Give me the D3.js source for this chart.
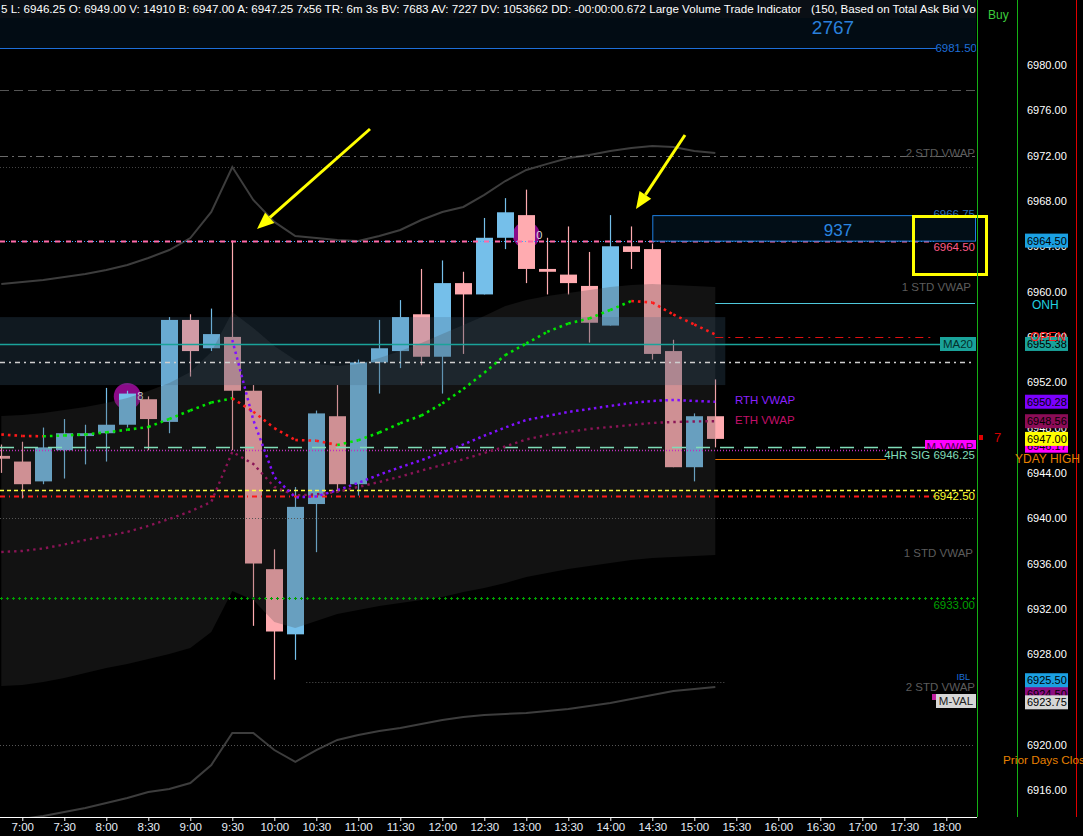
<!DOCTYPE html>
<html><head><meta charset="utf-8">
<script src="https://cdn.jsdelivr.net/npm/d3@7"></script>
<style>
body{margin:0;background:#000;overflow:hidden}
svg{display:block}
text{font-family:"Liberation Sans","DejaVu Sans",sans-serif}
</style></head><body>
<svg id="c" width="1083" height="836"></svg>
<script>
// ---------------- DATA ----------------
const barTimes = ["6:45","7:00","7:15","7:30","7:45","8:00","8:15","8:30","8:45","9:00","9:15","9:30","9:45","10:00","10:15","10:30","10:45","11:00","11:15","11:30","11:45","12:00","12:15","12:30","12:45","13:00","13:15","13:30","13:45","14:00","14:15","14:30","14:45","15:00","15:15"];
const opens  = [6945.5,6945.0,6943.25,6946.0,6947.25,6947.5,6948.25,6950.5,6948.5,6957.5,6955.0,6956.0,6951.25,6935.5,6929.75,6941.25,6949.0,6943.0,6953.75,6954.75,6958.0,6954.25,6960.75,6959.75,6964.75,6966.75,6962.0,6961.5,6960.5,6957.0,6964.0,6963.75,6954.75,6944.5,6949.0];
const highs  = [6946.5,6946.75,6948.0,6948.75,6948.25,6951.5,6951.25,6950.75,6957.75,6958.0,6958.5,6964.5,6951.75,6937.25,6942.75,6949.5,6951.75,6954.0,6957.5,6959.25,6962.0,6962.75,6961.75,6966.5,6968.25,6969.0,6964.75,6965.75,6963.5,6966.75,6965.75,6964.25,6955.75,6949.25,6952.25];
const lows   = [6944.0,6941.75,6943.0,6943.5,6944.75,6945.0,6948.0,6946.0,6947.5,6952.5,6954.75,6946.0,6930.5,6925.75,6927.5,6937.0,6942.5,6942.0,6951.0,6953.25,6953.5,6951.0,6954.5,6959.75,6963.75,6960.75,6959.75,6959.75,6955.5,6957.0,6962.0,6954.0,6944.5,6943.25,6946.25];
const closes = [6945.25,6943.0,6946.25,6947.5,6947.5,6948.25,6951.0,6948.75,6957.5,6954.75,6956.25,6951.25,6936.0,6930.0,6941.0,6949.25,6943.0,6953.75,6955.0,6957.75,6954.25,6960.75,6959.75,6964.75,6967.0,6962.0,6961.75,6960.75,6957.25,6964.0,6963.5,6954.5,6944.5,6949.0,6947.0];

const std2Upper = [6960.67,6960.85,6961.03,6961.29,6961.56,6961.91,6962.35,6962.97,6963.67,6964.73,6967.03,6971.00,6968.09,6966.15,6964.91,6964.73,6964.56,6964.47,6964.91,6965.44,6966.32,6967.03,6967.47,6968.53,6969.76,6970.74,6971.27,6971.79,6972.06,6972.41,6972.68,6972.85,6972.77,6972.41,6972.24];
const std2Lower = [6913.37,6913.46,6913.72,6914.07,6914.43,6914.87,6915.31,6915.84,6916.10,6916.63,6918.22,6921.05,6921.05,6919.54,6918.49,6919.54,6920.43,6920.87,6921.22,6921.49,6921.84,6922.19,6922.46,6922.63,6922.72,6922.81,6922.99,6923.16,6923.43,6923.69,6924.05,6924.40,6924.75,6924.93,6925.11];
const std1Upper = [6949.02,6949.11,6949.29,6949.55,6949.82,6950.17,6950.61,6951.23,6951.94,6952.91,6954.67,6958.20,6956.79,6955.20,6953.97,6953.61,6953.44,6953.61,6954.14,6954.76,6955.47,6956.26,6957.06,6957.85,6958.73,6959.26,6959.62,6959.88,6960.14,6960.41,6960.59,6960.67,6960.59,6960.50,6960.41];
const std1Lower = [6925.19,6925.28,6925.55,6925.90,6926.34,6926.78,6927.14,6927.58,6928.02,6928.55,6929.96,6933.58,6932.78,6930.84,6930.31,6930.93,6931.55,6931.90,6932.25,6932.52,6932.78,6933.05,6933.49,6933.84,6934.28,6934.81,6935.17,6935.52,6935.78,6936.05,6936.31,6936.49,6936.58,6936.67,6936.76];
const trendMA  = [6947.39,6947.26,6947.23,6947.30,6947.39,6947.58,6947.81,6948.05,6948.76,6949.51,6950.21,6950.58,6949.40,6947.96,6946.90,6946.84,6946.46,6946.88,6947.56,6948.38,6949.06,6950.12,6951.40,6952.84,6954.40,6955.42,6956.45,6957.18,6957.63,6958.38,6959.17,6959.04,6957.98,6957.10,6956.21];
const ethVwap  = [6937.02,6937.11,6937.33,6937.68,6938.08,6938.43,6938.79,6939.32,6939.93,6940.60,6941.43,6945.85,6944.79,6942.76,6942.01,6942.10,6942.32,6942.76,6943.20,6943.67,6944.20,6944.70,6945.20,6945.76,6946.33,6946.95,6947.35,6947.61,6947.88,6948.05,6948.23,6948.41,6948.49,6948.54,6948.56];
const rthStart = "9:30";
const rthVwap  = [6955.73,6948.67,6943.64,6941.83,6941.92,6942.47,6943.12,6943.84,6944.50,6945.12,6945.80,6946.51,6947.28,6948.01,6948.67,6949.02,6949.38,6949.64,6949.91,6950.17,6950.35,6950.44,6950.35,6950.28];

const levelNames  = ["LVT High","Prior A","Prior B","Prior C","RTH High","ONH","OPEN","MA20","Mid","4HR SIG","M-VWAP","YDAY HIGH","Yellow","Red","Grid40","Plus","IBL","Grid20"];
const levelPrices = [6981.5,6977.75,6972.0,6971.0,6964.5,6959.0,6956.0,6955.38,6953.75,6946.25,6946.0,6945.25,6942.5,6942.0,6940.0,6933.0,6925.5,6920.0];

const valueAreaTop = 6957.75, valueAreaBottom = 6951.75;
const lvtBoxTop = 6966.75, lvtBoxBottom = 6964.5, lvtBoxStart = "14:30", lvtBoxVolume = "937";
const lvtTopVolume = "2767";
const bigTrades = [{time:"8:15", price:6950.75, label:"8"},{time:"13:00", price:6965.0, label:"0"}];

const timeTicks = ["7:00","7:30","8:00","8:30","9:00","9:30","10:00","10:30","11:00","11:30","12:00","12:30","13:00","13:30","14:00","14:30","15:00","15:30","16:00","16:30","17:00","17:30","18:00"];
const priceTicks = [6916,6920,6924,6928,6932,6936,6940,6944,6948,6952,6956,6960,6964,6968,6972,6976,6980];

const axisBoxes = [
  {v:"6964.50", p:6964.5, bg:"#1ba0e2", fg:"#000"},
  {v:"6955.38", p:6955.38, bg:"#1aa39a", fg:"#000"},
  {v:"6950.28", p:6950.28, bg:"#7b00ff", fg:"#000"},
  {v:"6948.56", p:6948.56, bg:"#8c0c57", fg:"#000"},
  {v:"6946.17", p:6946.4, bg:"#ff00ff", fg:"#000"},
  {v:"6947.00", p:6947.0, bg:"#ffff00", fg:"#000"},
  {v:"6924.50", p:6924.5, bg:"#8c0c80", fg:"#000"},
  {v:"6925.50", p:6925.7, bg:"#1ba0e2", fg:"#000"},
  {v:"6923.75", p:6923.75, bg:"#d6d6d6", fg:"#000"}
];
const header = "5 L: 6946.25 O: 6949.00 V: 14910 B: 6947.00 A: 6947.25 7x56 TR: 6m 3s BV: 7683 AV: 7227 DV: 1053662 DD: -00:00:00.672 Large Volume Trade Indicator   (150, Based on Total Ask Bid Volume At Price)";

// ---------------- CHART ----------------
const toMin = s => { const [h,m] = s.split(":").map(Number); return h*60+m; };
const svg = d3.select("#c");
const plotR = 977, axisY = 817;
const x = d3.scaleLinear().domain([toMin("7:00"), toMin("18:00")]).range([22.3, 946.3]);
const y = d3.scaleLinear().domain([6920, 6980]).range([744.8, 65]);
const bx = i => x(toMin(barTimes[i]));

svg.append("rect").attr("width",1083).attr("height",836).attr("fill","#000");
const defs = svg.append("defs");
defs.append("clipPath").attr("id","clip").append("rect").attr("x",0).attr("y",0).attr("width",plotR-1).attr("height",axisY);
defs.append("clipPath").attr("id","clipR").append("rect").attr("x",977).attr("y",0).attr("width",106).attr("height",836);
const g = svg.append("g").attr("clip-path","url(#clip)");

// top zone
g.append("rect").attr("x",0).attr("y",0).attr("width",plotR).attr("height",y(6981.5)).attr("fill","#020c14");
g.append("rect").attr("x",0).attr("y",0).attr("width",plotR).attr("height",18).attr("fill","#0a0f15");
g.append("text").attr("x",1).attr("y",13).attr("fill","#fff").style("font-size","11.6px").attr("xml:space","preserve").text(header);
g.append("text").attr("x",833).attr("y",34).attr("text-anchor","middle").attr("fill","#2a80dc").style("font-size","19px").text(lvtTopVolume);

// big trade circles
bigTrades.forEach(b=>{
  g.append("circle").attr("cx",x(toMin(b.time))).attr("cy",y(b.price)).attr("r",13.5).attr("fill","#8b0a88");
});

// candles
const idx = d3.range(barTimes.length);
const cg = g.append("g");
idx.forEach(i=>{
  const up = closes[i] >= opens[i];
  const col = up ? "#75bfea" : "#ffabb0";
  const cx = Math.round(bx(i)) + 0.5;
  cg.append("line").attr("x1",cx).attr("x2",cx).attr("y1",y(highs[i])).attr("y2",y(lows[i])).attr("stroke",col).attr("stroke-width",1.2);
  const top = y(Math.max(opens[i],closes[i])), bot = y(Math.min(opens[i],closes[i]));
  cg.append("rect").attr("x",cx-8.5).attr("y",top).attr("width",17).attr("height",Math.max(bot-top,2)).attr("fill",col);
});
bigTrades.forEach(b=>{
  g.append("text").attr("x",x(toMin(b.time))+10).attr("y",y(b.price)+4).attr("fill","#ddd").style("font-size","11px").text(b.label);
});

// 1 STD band overlay
const lastX = bx(barTimes.length-1);
const band = d3.area().x((d,i)=>bx(i)).y0((d,i)=>y(std1Lower[i])).y1((d,i)=>y(std1Upper[i]));
g.append("path").datum(std1Upper).attr("d",band).attr("fill","rgba(68,68,68,0.26)");
// value area overlay
g.append("rect").attr("x",0).attr("y",y(valueAreaTop)).attr("width",lastX+10).attr("height",y(valueAreaBottom)-y(valueAreaTop)).attr("fill","rgba(66,104,134,0.24)");

// 2 STD lines
const ln = arr => d3.line().x((d,i)=>bx(i)).y(d=>y(d))(arr);
g.append("path").attr("d",ln(std2Upper)).attr("fill","none").attr("stroke","#3d3d3d").attr("stroke-width",2);
g.append("path").attr("d",ln(std2Lower)).attr("fill","none").attr("stroke","#3d3d3d").attr("stroke-width",2);

// horizontal levels
const lv = {};
levelNames.forEach((n,i)=>lv[n]=levelPrices[i]);
function hline(name, x0, x1, stroke, width, dash){
  const yy = Math.round(y(lv[name]))+0.5;
  const l = g.append("line").attr("x1",x0).attr("x2",x1).attr("y1",yy).attr("y2",yy).attr("stroke",stroke).attr("stroke-width",width);
  if(dash) l.attr("stroke-dasharray",dash);
  return l;
}
hline("LVT High",0,936,"#1e6fd8",1.2);
hline("Prior A",0,975,"#555",1,"9,5");
hline("Prior B",0,975,"#6a6a6a",1.2,"8,4,2,4");
hline("Prior C",0,975,"#444",1,"1,2");
hline("Grid40",0,975,"#555",1,"1,2");
hline("Grid20",0,975,"#555",1,"1,2");
hline("IBL",x(toMin("10:30"))-10,lastX+10,"#555",1,"1,2");
hline("MA20",0,940,"#1aa39a",1.3);
hline("Mid",0,975,"#cfcfcf",1.5,"5,4,2,4");
hline("4HR SIG",0,975,"#80dcb8",1.5,"14,10");
hline("M-VWAP",0,925,"#c030c0",1.5,"1,2");
hline("YDAY HIGH",lastX,890,"#e07000",1);
hline("Yellow",0,975,"#ffff40",1.6,"4,3");
hline("Red",0,935,"#ff1a1a",2.2,"5,4,1,4");
hline("ONH",lastX,975,"#4fc8dc",1);
hline("OPEN",lastX,935,"#e01010",1.2,"8,5,2,5");
hline("RTH High",0,935,"#3fb0ff",1,"1,2");
hline("RTH High",0,935,"#ff6aa8",2,"5,6");
// green plus line
{
  const yy = Math.round(y(lv["Plus"]))+0.5;
  g.append("line").attr("x1",0).attr("x2",975).attr("y1",yy).attr("y2",yy).attr("stroke","#00a000").attr("stroke-width",1).attr("stroke-dasharray","3,3");
  g.append("line").attr("x1",1).attr("x2",975).attr("y1",yy).attr("y2",yy).attr("stroke","#00a000").attr("stroke-width",3).attr("stroke-dasharray","1,5");
}

// LVT box
{
  const x0 = x(toMin(lvtBoxStart));
  g.append("rect").attr("x",x0+0.5).attr("y",y(lvtBoxTop)+0.5).attr("width",975-x0).attr("height",y(lvtBoxBottom)-y(lvtBoxTop)).attr("fill","rgba(2,16,26,0.9)").attr("stroke","#1e7fe0").attr("stroke-width",1);
  g.append("text").attr("x",838).attr("y",236).attr("text-anchor","middle").attr("fill","#2a86e0").style("font-size","17px").text(lvtBoxVolume);
}

// indicator curves
for(let i=0;i<trendMA.length-1;i++){
  const upSeg = trendMA[i+1] >= trendMA[i];
  g.append("line").attr("x1",bx(i)).attr("y1",y(trendMA[i])).attr("x2",bx(i+1)).attr("y2",y(trendMA[i+1]))
   .attr("stroke", upSeg ? "#00e600" : "#ff1a1a").attr("stroke-width",2.6).attr("stroke-dasharray","2.6,4");
}
g.append("path").attr("d",ln(ethVwap)).attr("fill","none").attr("stroke","#8a1456").attr("stroke-width",2.4).attr("stroke-dasharray","2.4,4");
{
  const s = barTimes.indexOf(rthStart);
  const p = d3.line().x((d,i)=>bx(s+i)).y(d=>y(d))(rthVwap);
  g.append("path").attr("d",p).attr("fill","none").attr("stroke","#7f10ff").attr("stroke-width",2.5).attr("stroke-dasharray","2.5,3.5");
}

// plot labels
function lab(t, xx, yy, col, size, anchor){
  return g.append("text").attr("x",xx).attr("y",yy).attr("fill",col).attr("text-anchor",anchor||"end").style("font-size",(size||11.5)+"px").text(t);
}
lab("6981.50",977,52,"#1e6fd8");
lab("2 STD VWAP",975,157,"#5c5c5c");
lab("6966.75",975,218,"#2a6fb8");
lab("6964.50",975,251,"#ff5a88");
lab("1 STD VWAP",971,291,"#5c5c5c");
g.append("rect").attr("x",940).attr("y",337).attr("width",36).attr("height",14).attr("fill","#1aa39a");
lab("MA20",958,348,"#04302c",11.5,"middle");
lab("RTH VWAP",735,404,"#8a20ff",11.5,"start");
lab("ETH VWAP",735,424,"#c4106a",11.5,"start");
g.append("rect").attr("x",925).attr("y",440).attr("width",51).attr("height",14).attr("fill","#ff00ff");
lab("M-VWAP",950,451,"#400040",11.5,"middle");
g.append("rect").attr("x",886).attr("y",449).attr("width",90).attr("height",12).attr("fill","#000");
lab("4HR SIG  6946.25",975,459,"#80dcb8");
lab("6942.50",975,500,"#ffff30");
lab("1 STD VWAP",973,557,"#5c5c5c");
lab("6933.00",975,609,"#00a000");
lab("IBL",970,680,"#1e6fd8",9);
lab("2 STD VWAP",975,691,"#5c5c5c");
g.append("rect").attr("x",932).attr("y",694).attr("width",5).attr("height",6).attr("fill","#c020a0");
g.append("rect").attr("x",936).attr("y",694).attr("width",40).attr("height",14).attr("fill","#d6d6d6");
lab("M-VAL",956,705,"#202020",11.5,"middle");

// annotations (arrows and box)
function arrow(x1,y1,x2,y2){
  const a = Math.atan2(y2-y1,x2-x1), L=17, Wd=7;
  const bxp = x2 - L*Math.cos(a), byp = y2 - L*Math.sin(a);
  g.append("line").attr("x1",x1).attr("y1",y1).attr("x2",bxp).attr("y2",byp).attr("stroke","#ffff00").attr("stroke-width",3);
  const p1 = [bxp + Wd*Math.sin(a), byp - Wd*Math.cos(a)], p2 = [bxp - Wd*Math.sin(a), byp + Wd*Math.cos(a)];
  g.append("path").attr("d",`M${x2},${y2}L${p1}L${p2}Z`).attr("fill","#ffff00");
}
arrow(370,129,257,229);
arrow(685,135,636,209);
svg.append("rect").attr("x",913.5).attr("y",216.5).attr("width",73).attr("height",58).attr("fill","none").attr("stroke","#ffff00").attr("stroke-width",3);

// bottom axis
const xAxis = d3.axisBottom(x).tickValues(timeTicks.map(toMin)).tickFormat((d,i)=>timeTicks[i]).tickSize(4).tickSizeOuter(0).tickPadding(2);
const xa = svg.append("g").attr("transform",`translate(0,${axisY})`).call(xAxis);
xa.select(".domain").remove();
xa.selectAll("line").attr("stroke","#fff");
xa.selectAll("text").attr("fill","#e6eef6").style("font-size","11.5px").style("font-family","Liberation Sans, sans-serif");
svg.append("line").attr("x1",0).attr("x2",plotR).attr("y1",axisY+0.5).attr("y2",axisY+0.5).attr("stroke","#fff").attr("stroke-width",1.2);

// separators
svg.append("line").attr("x1",plotR+0.5).attr("x2",plotR+0.5).attr("y1",0).attr("y2",axisY).attr("stroke","#14b014");
svg.append("line").attr("x1",1017.5).attr("x2",1017.5).attr("y1",0).attr("y2",axisY).attr("stroke","#14b014");
svg.append("line").attr("x1",1076.5).attr("x2",1076.5).attr("y1",0).attr("y2",axisY).attr("stroke","#e00000");

// right axis
const yAxis = d3.axisRight(y).tickValues(priceTicks).tickFormat(d3.format(".2f")).tickSize(0).tickPadding(0);
const ya = svg.append("g").attr("transform","translate(1027,0)").call(yAxis);
ya.select(".domain").remove();
ya.selectAll("text").attr("fill","#fff").style("font-size","11px").style("font-family","Liberation Sans, sans-serif");
axisBoxes.forEach(b=>{
  const yy = y(b.p);
  svg.append("rect").attr("x",1025).attr("y",yy-7).attr("width",43).attr("height",14).attr("fill",b.bg);
  svg.append("text").attr("x",1027).attr("y",yy+4).attr("fill",b.fg).style("font-size","11px").text(b.v);
});
const rg = svg.append("g").attr("clip-path","url(#clipR)");
function rlab(t,xx,yy,col,size){ rg.append("text").attr("x",xx).attr("y",yy).attr("fill",col).style("font-size",(size||12)+"px").text(t); }
rlab("Buy",988,19,"#3ccc3c");
rlab("ONH",1032,309,"#20d0e0");
rlab("OPEN",1030,341,"#ff2020",12.5);
rlab("YDAY HIGH",1015,463,"#e88000",12);
rlab("Prior Days Clos",1003,764,"#e88000",11.8);
rg.append("rect").attr("x",979).attr("y",435).attr("width",4).attr("height",5).attr("fill","#e00000");
rlab("7",994,442,"#d00000",13);
</script>
</body></html>
